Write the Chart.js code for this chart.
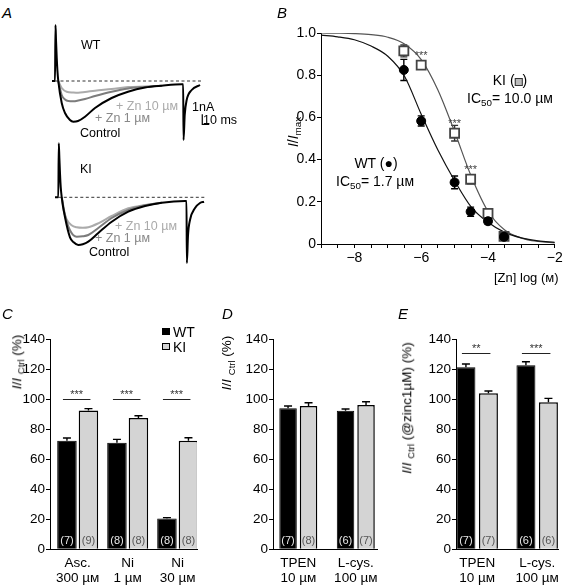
<!DOCTYPE html>
<html>
<head>
<meta charset="utf-8">
<script src="https://cdn.jsdelivr.net/npm/chart.js@4.4.1/dist/chart.umd.min.js"></script>
<style>
  body { margin: 0; background: #fff; }
  #fig { position: relative; width: 563px; height: 585px; overflow: hidden; font-family: "Liberation Sans", Arial, sans-serif; color: #000; }
  #fig canvas { position: absolute; }
  .t { position: absolute; white-space: nowrap; font-size: 14px; line-height: 1; transform: translateY(-50%); }
  .c { transform: translate(-50%, -50%); }
  .rot { transform: translate(-50%, -50%) rotate(-90deg); }
  .letter { font-size: 15px; font-style: italic; }
  .tr { font-size: 12.5px; }
  sub { font-size: 0.7em; vertical-align: -0.35em; line-height: 0; }
  .box { display: inline-block; width: 6px; height: 6px; border: 1.6px solid #333; background: #bbb; vertical-align: -1px; }
  .sw { position: absolute; width: 8px; height: 7px; box-sizing: border-box; }
</style>
</head>
<body>
<div id="fig">
  <canvas id="cAwt" width="180" height="135" style="left:40px;top:15px"></canvas>
  <canvas id="cAki" width="180" height="135" style="left:40px;top:135px"></canvas>
  <canvas id="cB" width="323" height="290" style="left:240px;top:0px"></canvas>
  <canvas id="cC" width="205" height="295" style="left:0px;top:290px"></canvas>
  <canvas id="cD" width="178" height="295" style="left:205px;top:290px"></canvas>
  <canvas id="cE" width="180" height="295" style="left:383px;top:290px"></canvas>

  <!-- panel letters -->
  <div class="t letter" style="left:2px;top:12px">A</div>
  <div class="t letter" style="left:277px;top:12px">B</div>
  <div class="t letter" style="left:2px;top:313px">C</div>
  <div class="t letter" style="left:222px;top:313px">D</div>
  <div class="t letter" style="left:398px;top:313px">E</div>

  <!-- A labels -->
  <div class="t tr" style="left:81px;top:45px">WT</div>
  <div class="t tr" style="left:116px;top:106px;color:#aaa">+ Zn 10 µᴍ</div>
  <div class="t tr" style="left:95px;top:118px;color:#888">+ Zn 1 µᴍ</div>
  <div class="t tr" style="left:80px;top:133px">Control</div>
  <div class="t tr" style="left:192px;top:107px">1nA</div>
  <div class="t tr" style="left:203px;top:120px">10 ms</div>
  <div class="t tr" style="left:80px;top:169px">KI</div>
  <div class="t tr" style="left:115px;top:226px;color:#aaa">+ Zn 10 µᴍ</div>
  <div class="t tr" style="left:95px;top:238px;color:#888">+ Zn 1 µᴍ</div>
  <div class="t tr" style="left:89px;top:252px">Control</div>

  <!-- B labels -->
  <div class="t rot" style="left:293px;top:132px"><i>I</i>/<i>I</i><sub>max</sub></div>
  <div class="t" style="left:494px;top:277px;font-size:13px">[Zn] log (ᴍ)</div>
  <div class="t c" style="left:510px;top:80px">KI (<span class="box"></span>)</div>
  <div class="t c" style="left:510px;top:98px">IC<sub>50</sub>= 10.0 µᴍ</div>
  <div class="t c" style="left:376px;top:163px">WT (●)</div>
  <div class="t c" style="left:375px;top:181px">IC<sub>50</sub>= 1.7 µᴍ</div>

  <!-- C/D/E axis titles and legend -->
  <div class="t rot" style="left:17px;top:362px;font-size:13.5px"><i>I</i>/<i>I</i> <sub>Ctrl</sub> (%)</div>
  <div class="t rot" style="left:227px;top:363px;font-size:13.5px"><i>I</i>/<i>I</i> <sub>Ctrl</sub> (%)</div>
  <div class="t rot" style="left:407px;top:408px;font-size:13.5px"><i>I</i>/<i>I</i> <sub>Ctrl</sub> (@zinc1µM) (%)</div>
  <div class="sw" style="left:162px;top:328px;background:#000"></div>
  <div class="sw" style="left:162px;top:343px;background:#d4d4d4;border:1px solid #000"></div>
  <div class="t" style="left:173px;top:331.5px">WT</div>
  <div class="t" style="left:173px;top:346.5px">KI</div>
</div>

<script>
/* ========= DATA ========= */
// A: example currents, time (ms) and current (nA)
const wtCtrlT = [-4.3, 0, 0.7, 1.5, 2.5, 3.5, 4.7, 9.6, 14.3, 21.4, 26.2, 32.9, 42.9, 57.2, 81, 104.4, 128.7, 152.6, 181.6, 183.3, 183.8, 185.5, 188.3, 195.5, 207.4];
const wtCtrlI = [0, 0, 5.6, 4.0, 2.3, 1.0, 0, -2.2, -3.2, -3.9, -4.07, -4.0, -3.57, -2.7, -1.7, -1.07, -0.65, -0.47, -0.33, -0.33, -5.9, -3.4, -1.9, -0.9, -0.4];
const wtZn1T = [4.7, 9.6, 14.3, 19, 26.2, 33.3, 42.9, 57.2, 81, 104.8, 128.7, 152.6];
const wtZn1I = [0, -1.4, -1.85, -2.0, -2.02, -1.95, -1.8, -1.5, -1.07, -0.75, -0.6, -0.47];
const wtZn10T = [4.7, 9.6, 16.7, 26.2, 33.3, 42.9, 57.2, 81, 104.8, 128.7, 152.6];
const wtZn10I = [0, -0.7, -1.07, -1.15, -1.17, -1.1, -0.97, -0.8, -0.6, -0.55, -0.47];

const kiCtrlT = [-4.7, 0, 0.7, 1.5, 2.5, 3.5, 4.9, 9.6, 16.7, 22, 28.6, 35, 42.9, 57.2, 76.4, 100.1, 124, 147.9, 181.2, 183.3, 183.8, 185.5, 188.3, 195.5, 202.6, 208.4];
const kiCtrlI = [0, 0, 5.4, 4.0, 2.3, 1.0, 0, -2.0, -4.0, -4.5, -4.77, -4.7, -4.44, -3.57, -2.44, -1.44, -0.87, -0.54, -0.37, -0.37, -6.57, -3.77, -2.27, -1.07, -0.57, -0.44];
const kiZn1T = [4.9, 9.6, 16.7, 26.3, 35, 42.9, 57.2, 76.4, 100.1, 124, 147.9];
const kiZn1I = [0, -1.77, -3.3, -3.94, -3.9, -3.77, -3.07, -2.07, -1.27, -0.8, -0.54];
const kiZn10T = [4.9, 7.4, 12.4, 19, 26.3, 35, 42.9, 57.2, 76.4, 100.1, 124, 147.9];
const kiZn10I = [0, -1.27, -2.27, -2.8, -3.0, -3.05, -3.0, -2.6, -1.87, -1.1, -0.77, -0.54];

const baseT = [0, 210];
const baseI = [0, 0];
const scaleBarT = [210.6, 210.6, 220.6];   // 10 ms
const scaleBarI = [-3.33, -4.33, -4.33];   // 1 nA

// B: concentration-response, log [Zn] (M) vs I/Imax
const znLogWT = [-6.52, -6, -5, -4.52, -4, -3.52];
const wtRel = [0.825, 0.583, 0.292, 0.153, 0.108, 0.034];
const wtRelErr = [0.05, 0.024, 0.03, 0.022, 0.015, 0.005];
const znLogKI = [-6.52, -6, -5, -4.52, -4, -3.52];
const kiRel = [0.915, 0.848, 0.525, 0.307, 0.145, 0.036];
const kiRelErr = [0.028, 0.01, 0.037, 0.022, 0.013, 0.005];
const kiStars = ['', '***', '***', '***', '', ''];
const fitLogX = [-9, -8.5, -8, -7.5, -7, -6.5, -6, -5.5, -5, -4.5, -4, -3.5, -3, -2.5, -2];
const wtFit = [0.99, 0.982, 0.968, 0.938, 0.89, 0.795, 0.615, 0.445, 0.30, 0.175, 0.103, 0.055, 0.029, 0.015, 0.008];
const kiFit = [1.0, 0.999, 0.997, 0.992, 0.98, 0.948, 0.874, 0.73, 0.532, 0.32, 0.155, 0.066, 0.028, 0.012, 0.005];

// C
const cCats = [['Asc.', '300 µᴍ'], ['Ni', '1 µᴍ'], ['Ni', '30 µᴍ']];
const cWT = [72.4, 71, 20.5];
const cWTErr = [1.8, 2.3, 0.6];
const cKI = [92.5, 87.5, 72.4];
const cKIErr = [1.3, 1.5, 2.0];
const cNWT = [7, 8, 8];
const cNKI = [9, 8, 8];
const cSig = ['***', '***', '***'];

// D
const dCats = [['TPEN', '10 µᴍ'], ['L-cys.', '100 µᴍ']];
const dWT = [94, 92.4];
const dWTErr = [1.5, 1.1];
const dKI = [95.5, 96.2];
const dKIErr = [2.2, 2.2];
const dNWT = [7, 6];
const dNKI = [8, 7];

// E
const eCats = [['TPEN', '10 µᴍ'], ['L-cys.', '100 µᴍ']];
const eWT = [121.3, 122.7];
const eWTErr = [2.2, 2.3];
const eKI = [104, 98];
const eKIErr = [1.5, 2.6];
const eNWT = [7, 6];
const eNKI = [7, 6];
const eSig = ['**', '***'];

/* ========= HELPERS ========= */
Chart.defaults.font.family = '"Liberation Sans", Arial, sans-serif';
Chart.defaults.color = '#000';
const FONT = '"Liberation Sans", Arial, sans-serif';
const pts = (xs, ys) => xs.map((x, i) => ({ x, y: ys[i] }));

const errorBars = {
  id: 'errorBars',
  beforeDatasetsDraw(chart) {
    const ctx = chart.ctx, ys = chart.scales.y;
    chart.data.datasets.forEach((ds, di) => {
      if (!ds.errors) return;
      const meta = chart.getDatasetMeta(di);
      ctx.save();
      ctx.strokeStyle = ds.errorColor || '#000';
      ctx.lineWidth = 1.4;
      meta.data.forEach((el, i) => {
        const v = ds.data[i].y, e = ds.errors[i], w = ds.capWidth || 3.5;
        const top = ys.getPixelForValue(v + e);
        const bot = ys.getPixelForValue(ds.errorBoth ? v - e : v);
        ctx.beginPath();
        ctx.moveTo(el.x, bot); ctx.lineTo(el.x, top);
        ctx.moveTo(el.x - w, top); ctx.lineTo(el.x + w, top);
        if (ds.errorBoth) { ctx.moveTo(el.x - w, bot); ctx.lineTo(el.x + w, bot); }
        ctx.stroke();
      });
      ctx.restore();
    });
  }
};

const barText = {
  id: 'barText',
  afterDatasetsDraw(chart, args, opts) {
    const ctx = chart.ctx, ys = chart.scales.y;
    ctx.save();
    ctx.textAlign = 'center';
    // n numbers at the foot of each bar
    chart.data.datasets.forEach((ds, di) => {
      if (!ds.nLabels) return;
      ctx.fillStyle = ds.nColor;
      ctx.font = '11px ' + FONT;
      ctx.textBaseline = 'middle';
      chart.getDatasetMeta(di).data.forEach((el, i) => {
        ctx.fillText('(' + ds.nLabels[i] + ')', el.x, ys.getPixelForValue(0) - 8);
      });
    });
    // significance lines
    if (opts.marks) {
      const a = chart.getDatasetMeta(0).data, b = chart.getDatasetMeta(1).data;
      const yy = Math.round(ys.getPixelForValue(opts.level)) + 0.5;
      opts.marks.forEach((m, i) => {
        if (!m) return;
        const x1 = a[i].x - 4, x2 = b[i].x + 2;
        ctx.strokeStyle = '#222';
        ctx.lineWidth = 1;
        ctx.beginPath(); ctx.moveTo(x1, yy); ctx.lineTo(x2, yy); ctx.stroke();
        ctx.fillStyle = '#333';
        ctx.font = '11px ' + FONT;
        ctx.textBaseline = 'alphabetic';
        ctx.fillText(m, (x1 + x2) / 2, yy - 1.5);
      });
    }
    ctx.restore();
  }
};

const starText = {
  id: 'starText',
  afterDatasetsDraw(chart) {
    const ctx = chart.ctx;
    chart.data.datasets.forEach((ds, di) => {
      if (!ds.stars) return;
      ctx.save();
      ctx.fillStyle = '#444';
      ctx.font = '11px ' + FONT;
      ctx.textAlign = 'center';
      chart.getDatasetMeta(di).data.forEach((el, i) => {
        if (ds.stars[i]) ctx.fillText(ds.stars[i], el.x, el.y - 6.5);
      });
      ctx.restore();
    });
  }
};

const baseOpts = {
  responsive: false,
  animation: false,
  events: [],
  devicePixelRatio: 1,
  plugins: { legend: { display: false }, tooltip: { enabled: false } }
};

/* ========= A: TRACES ========= */
function traceChart(id, sets, xr, yr, withBar) {
  const datasets = [
    { data: pts(baseT, baseI), borderColor: '#333', borderWidth: 1, borderDash: [3, 2.5] },
    { data: pts(sets.zn10T, sets.zn10I), borderColor: '#ababab', borderWidth: 2 },
    { data: pts(sets.zn1T, sets.zn1I), borderColor: '#7c7c7c', borderWidth: 2 },
    { data: pts(sets.ctrlT, sets.ctrlI), borderColor: '#000', borderWidth: 2 }
  ];
  if (withBar) datasets.push({ data: pts(scaleBarT, scaleBarI), borderColor: '#000', borderWidth: 1.2, cubicInterpolationMode: 'default', tension: 0 });
  datasets.forEach((d, i) => {
    d.showLine = true;
    d.pointRadius = 0;
    if (i > 0 && !d.tension && d.tension !== 0) d.cubicInterpolationMode = 'monotone';
    d.order = datasets.length - i;
  });
  new Chart(document.getElementById(id), {
    type: 'scatter',
    data: { datasets },
    options: {
      ...baseOpts,
      layout: { padding: 0 },
      scales: {
        x: { type: 'linear', display: false, min: xr[0], max: xr[1] },
        y: { type: 'linear', display: false, min: yr[0], max: yr[1] }
      }
    }
  });
}

/* ========= B: DOSE RESPONSE ========= */
function initDose() {
  new Chart(document.getElementById('cB'), {
    type: 'scatter',
    data: {
      datasets: [
        { data: pts(znLogWT, wtRel), errors: wtRelErr, errorBoth: true, errorColor: '#000', capWidth: 3.5,
          pointStyle: 'circle', pointRadius: 4.5, pointBackgroundColor: '#000', pointBorderColor: '#000', order: 0 },
        { data: pts(znLogKI, kiRel), errors: kiRelErr, errorBoth: true, errorColor: '#333', capWidth: 3.5, stars: kiStars,
          pointStyle: 'rect', pointRadius: 6.4, pointBorderColor: '#444', pointBorderWidth: 1.8,
          pointBackgroundColor: c => c.dataIndex === znLogKI.length - 1 ? '#111' : '#fff', order: 1 },
        { data: pts(fitLogX, wtFit), showLine: true, borderColor: '#111', borderWidth: 1.2, pointRadius: 0,
          cubicInterpolationMode: 'monotone', order: 2 },
        { data: pts(fitLogX, kiFit), showLine: true, borderColor: '#555', borderWidth: 1.2, pointRadius: 0,
          cubicInterpolationMode: 'monotone', order: 3 }
      ]
    },
    options: {
      ...baseOpts,
      layout: { padding: { top: 33, right: 8, bottom: 0, left: 0 } },
      scales: {
        x: {
          type: 'linear', min: -9, max: -2,
          grid: { drawOnChartArea: false, tickLength: 4, color: '#000' },
          border: { color: '#000', width: 1 },
          afterBuildTicks: s => {
            const t = [];
            for (let v = -9; v <= -2; v += 0.5) t.push({ value: v });
            s.ticks = t;
          },
          ticks: {
            autoSkip: false, maxRotation: 0, padding: 2, font: { size: 14 },
            callback: v => (Number.isInteger(v) && v % 2 === 0) ? '\u2212' + Math.abs(v) : ''
          },
          afterFit: s => { s.height = 46; s.paddingLeft = 0; s.paddingRight = 0; }
        },
        y: {
          min: 0, max: 1,
          grid: { drawOnChartArea: false, tickLength: 4, color: '#000' },
          border: { color: '#000', width: 1 },
          ticks: { stepSize: 0.2, padding: 1, font: { size: 14 }, callback: v => v === 0 ? '0' : v.toFixed(1) },
          afterFit: s => { s.width = 81; s.paddingTop = 0; s.paddingBottom = 0; }
        }
      }
    },
    plugins: [errorBars, starText]
  });
}

/* ========= C/D/E: BARS ========= */
function barChart(id, o) {
  const idx = o.cats.map((c, i) => i);
  new Chart(document.getElementById(id), {
    type: 'bar',
    data: {
      datasets: [
        { data: pts(idx, o.wt), backgroundColor: '#000', borderColor: '#000', borderWidth: 1,
          errors: o.wtErr, errorColor: '#000', capWidth: 4, nLabels: o.nWT, nColor: '#e8e8e8',
          categoryPercentage: o.cat, barPercentage: o.bar },
        { data: pts(idx, o.ki), backgroundColor: '#d4d4d4', borderColor: '#000', borderWidth: 1.5,
          errors: o.kiErr, errorColor: '#000', capWidth: 4, nLabels: o.nKI, nColor: '#555',
          categoryPercentage: o.cat, barPercentage: o.bar }
      ]
    },
    options: {
      ...baseOpts,
      layout: { padding: { top: 49.3, right: o.padR, bottom: 0, left: 0 } },
      plugins: { ...baseOpts.plugins, barText: { marks: o.sig, level: o.sigLevel } },
      scales: {
        x: {
          type: 'linear', min: o.xr[0], max: o.xr[1], offset: false,
          grid: { display: false, drawTicks: false },
          border: { display: true, color: '#000', width: 1 },
          afterBuildTicks: s => { s.ticks = idx.map(i => ({ value: i })); },
          ticks: { autoSkip: false, maxRotation: 0, padding: 7, font: { size: 13.5, lineHeight: 1.1 }, callback: v => o.cats[v] },
          afterFit: s => { s.height = 35.7; s.paddingLeft = 0; s.paddingRight = 0; }
        },
        y: {
          min: 0, max: 140,
          grid: { drawOnChartArea: false, tickLength: 4, color: '#000' },
          border: { color: '#000', width: 1 },
          ticks: { stepSize: 20, padding: 1, font: { size: 13.5 } },
          afterFit: s => { s.width = o.yW; s.paddingTop = 0; s.paddingBottom = 0; }
        }
      }
    },
    plugins: [errorBars, barText]
  });
}

/* ========= LOAD ========= */
traceChart('cAwt', { ctrlT: wtCtrlT, ctrlI: wtCtrlI, zn1T: wtZn1T, zn1I: wtZn1I, zn10T: wtZn10T, zn10I: wtZn10I },
  [-21.45, 235.95], [-6.9, 6.6], true);
traceChart('cAki', { ctrlT: kiCtrlT, ctrlI: kiCtrlI, zn1T: kiZn1T, zn1I: kiZn1I, zn10T: kiZn10T, zn10I: kiZn10I },
  [-26.17, 231.2], [-7.27, 6.23], false);
initDose();
barChart('cC', { cats: cCats, wt: cWT, wtErr: cWTErr, ki: cKI, kiErr: cKIErr, nWT: cNWT, nKI: cNKI,
  sig: cSig, sigLevel: 100, xr: [-0.554, 2.386], cat: 0.86, bar: 0.907, yW: 50, padR: 8 });
barChart('cD', { cats: dCats, wt: dWT, wtErr: dWTErr, ki: dKI, kiErr: dKIErr, nWT: dNWT, nKI: dNKI,
  sig: null, sigLevel: 0, xr: [-0.44, 1.369], cat: 0.713, bar: 0.854, yW: 68, padR: 6 });
barChart('cE', { cats: eCats, wt: eWT, wtErr: eWTErr, ki: eKI, kiErr: eKIErr, nWT: eNWT, nKI: eNKI,
  sig: eSig, sigLevel: 131, xr: [-0.353, 1.352], cat: 0.75, bar: 0.844, yW: 73, padR: 4.7 });
</script>
</body>
</html>
